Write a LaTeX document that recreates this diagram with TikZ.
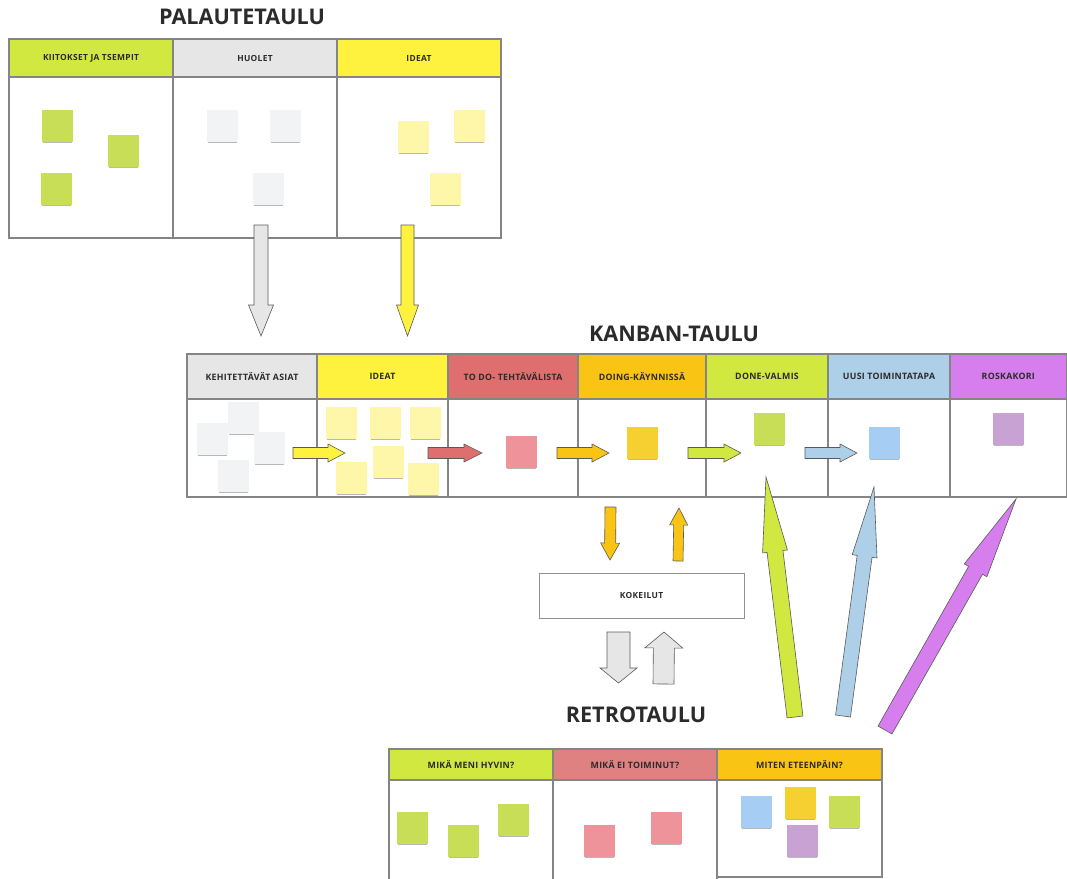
\documentclass[tikz,border=0pt]{standalone}
\usepackage{fontspec}
\setmainfont{Open Sans}
\usetikzlibrary{calc,shadows}

% header colours
\definecolor{hgreen}{HTML}{D0E840}
\definecolor{hgray}{HTML}{E6E6E6}
\definecolor{hyellow}{HTML}{FFF23F}
\definecolor{hred}{HTML}{DF6F6F}
\definecolor{hredb}{HTML}{E08181}
\definecolor{horange}{HTML}{F9C413}
\definecolor{hblue}{HTML}{AECFE8}
\definecolor{hpurple}{HTML}{D77EEE}
% sticky-note colours
\definecolor{ngreen}{HTML}{C8DE57}
\definecolor{nwhite}{HTML}{F2F3F5}
\definecolor{nyellow}{HTML}{FEF6A8}
\definecolor{npink}{HTML}{EF939B}
\definecolor{norange}{HTML}{F5D030}
\definecolor{nblue}{HTML}{A6CDF3}
\definecolor{npurple}{HTML}{C8A2D3}
% lines and text
\definecolor{ink}{HTML}{2B2B2B}
\definecolor{rule}{HTML}{858585}
\definecolor{edge}{HTML}{5A5A5A}

% block arrow: style, tail, tip, half shaft width, half head width, head length (px)
\newcommand\blockarrow[6]{%
  \path ($(#3)!#6*0.75pt!(#2)$) coordinate (ahb);
  \draw[#1]
    ($(#2)!#4*0.75pt!90:(#3)$) --
    ($(ahb)!#4*0.75pt!90:(#3)$) --
    ($(ahb)!#5*0.75pt!90:(#3)$) --
    (#3) --
    ($(ahb)!#5*0.75pt!-90:(#3)$) --
    ($(ahb)!#4*0.75pt!-90:(#3)$) --
    ($(#2)!#4*0.75pt!-90:(#3)$) -- cycle;
}

\begin{document}
\begin{tikzpicture}[x=0.75pt,y=-0.75pt,
  boardcell/.style 2 args={anchor=north west, inner sep=0pt, outer sep=0pt,
    minimum width=#1*0.75pt, minimum height=#2*0.75pt,
    draw=rule, line width=0.8pt},
  hdr/.style={font=\bfseries\fontsize{6.3}{7}\selectfont\addfontfeature{LetterSpace=4}, text=ink},
  hdrb/.style={font=\bfseries\fontsize{6.6}{7}\selectfont\addfontfeature{LetterSpace=3}, text=ink},
  boardtitle/.style={font=\bfseries\fontsize{16.2}{19}\selectfont, text=ink},
  note/.style={anchor=north west, inner sep=0pt, outer sep=0pt,
    minimum width=23.25pt, minimum height=24pt, fill=#1,
    drop shadow={shadow xshift=0pt, shadow yshift=-1.8pt,
      shadow scale=0.94, opacity=0.28, fill=black}},
  arr/.style={fill=#1, draw=edge, line width=0.45pt, line join=miter}
]
\useasboundingbox (0,0) rectangle (1067,878);
\clip (0,0) rectangle (1067,878);

% ---------------- PALAUTETAULU ----------------
\node[boardtitle] (t1) at (242,17) {PALAUTETAULU};
\node[boardcell={164}{161}] (p1b) at (9,77) {};
\node[boardcell={164}{161}] (p2b) at (173,77) {};
\node[boardcell={164}{161}] (p3b) at (337,77) {};
\node[boardcell={164}{38}, fill=hgreen, hdr] (p1h) at (9,39) {KIITOKSET JA TSEMPIT};
\node[boardcell={164}{38}, fill=hgray, hdr] (p2h) at (173,39) {HUOLET};
\node[boardcell={164}{38}, fill=hyellow, hdr] (p3h) at (337,39) {IDEAT};

\node[note=ngreen] (pa1) at (42,110) {};
\node[note=ngreen] (pa2) at (108,135) {};
\node[note=ngreen] (pa3) at (41,173) {};
\node[note=nwhite] (pb1) at (207,110) {};
\node[note=nwhite] (pb2) at (270,110) {};
\node[note=nwhite] (pb3) at (253,173) {};
\node[note=nyellow] (pc1) at (398,121) {};
\node[note=nyellow] (pc2) at (454,110) {};
\node[note=nyellow] (pc3) at (430,173) {};

% ---------------- KANBAN-TAULU ----------------
\node[boardtitle] (t2) at (674,334) {KANBAN-TAULU};
\node[boardcell={130}{98}] (k1b) at (187,399) {};
\node[boardcell={131}{98}] (k2b) at (317,399) {};
\node[boardcell={130}{98}] (k3b) at (448,399) {};
\node[boardcell={128}{98}] (k4b) at (578,399) {};
\node[boardcell={122}{98}] (k5b) at (706,399) {};
\node[boardcell={122}{98}] (k6b) at (828,399) {};
\node[boardcell={116.5}{98}] (k7b) at (950,399) {};
\node[boardcell={130}{45}, fill=hgray, hdrb] (k1h) at (187,354) {KEHITETTÄVÄT ASIAT};
\node[boardcell={131}{45}, fill=hyellow, hdrb] (k2h) at (317,354) {IDEAT};
\node[boardcell={130}{45}, fill=hred, hdrb] (k3h) at (448,354) {TO DO- TEHTÄVÄLISTA};
\node[boardcell={128}{45}, fill=horange, hdrb] (k4h) at (578,354) {DOING-KÄYNNISSÄ};
\node[boardcell={122}{45}, fill=hgreen, hdrb] (k5h) at (706,354) {DONE-VALMIS};
\node[boardcell={122}{45}, fill=hblue, hdrb] (k6h) at (828,354) {UUSI TOIMINTATAPA};
\node[boardcell={116.5}{45}, fill=hpurple, hdrb] (k7h) at (950,354) {ROSKAKORI};

\node[note=nwhite] (ka1) at (228,402) {};
\node[note=nwhite] (ka2) at (197,423) {};
\node[note=nwhite] (ka3) at (254,432) {};
\node[note=nwhite] (ka4) at (218,460) {};
\node[note=nyellow] (kb1) at (326,407) {};
\node[note=nyellow] (kb2) at (370,407) {};
\node[note=nyellow] (kb3) at (410,407) {};
\node[note=nyellow] (kb4) at (373,446) {};
\node[note=nyellow] (kb5) at (336,462) {};
\node[note=nyellow] (kb6) at (408,463) {};
\node[note=npink] (kc1) at (506,436) {};
\node[note=norange] (kd1) at (627,427) {};
\node[note=ngreen] (ke1) at (754,413) {};
\node[note=nblue] (kf1) at (869,427) {};
\node[note=npurple] (kg1) at (993,413) {};

% flow between the kanban columns
\coordinate (f1a) at (293,453); \coordinate (f1b) at (345,453);
\coordinate (f2a) at (428,453); \coordinate (f2b) at (482,453);
\coordinate (f3a) at (557,453); \coordinate (f3b) at (609,453);
\coordinate (f4a) at (688,453); \coordinate (f4b) at (741,453);
\coordinate (f5a) at (805,453); \coordinate (f5b) at (857,453);
\blockarrow{arr=hyellow}{f1a}{f1b}{5.5}{9}{17}
\blockarrow{arr=hred}{f2a}{f2b}{5.5}{9}{18}
\blockarrow{arr=horange}{f3a}{f3b}{5.5}{9}{17}
\blockarrow{arr=hgreen}{f4a}{f4b}{5.5}{9}{17}
\blockarrow{arr=hblue}{f5a}{f5b}{5.5}{9}{17}

% ---------------- KOKEILUT ----------------
\node[boardcell={205}{45}, draw=rule!90, line width=0.6pt, hdr] (kok) at (539,573) {KOKEILUT};

% ---------------- RETROTAULU ----------------
\node[boardtitle] (t3) at (636,715) {RETROTAULU};
\node[boardcell={164}{100}] (r1b) at (389,780) {};
\node[boardcell={164}{100}] (r2b) at (553,780) {};
\node[boardcell={165}{97}] (r3b) at (717,780) {};
\node[boardcell={164}{31}, fill=hgreen, hdrb] (r1h) at (389,749) {MIKÄ MENI HYVIN?};
\node[boardcell={164}{31}, fill=hredb, hdrb] (r2h) at (553,749) {MIKÄ EI TOIMINUT?};
\node[boardcell={165}{31}, fill=horange, hdrb] (r3h) at (717,749) {MITEN ETEENPÄIN?};

\node[note=ngreen] (ra1) at (397,812) {};
\node[note=ngreen] (ra2) at (448,825) {};
\node[note=ngreen] (ra3) at (498,804) {};
\node[note=npink] (rb1) at (584,825) {};
\node[note=npink] (rb2) at (651,812) {};
\node[note=nblue] (rc1) at (741,796) {};
\node[note=norange] (rc2) at (785,787) {};
\node[note=ngreen] (rc3) at (829,796) {};
\node[note=npurple] (rc4) at (787,825) {};

% ---------------- arrows between the boards ----------------
\coordinate (g1a) at (261,225); \coordinate (g1b) at (261,336);
\coordinate (y1a) at (407.5,225); \coordinate (y1b) at (407.5,336);
\blockarrow{arr=hgray}{g1a}{g1b}{7}{12.5}{31}
\blockarrow{arr=hyellow}{y1a}{y1b}{6.5}{11}{31}

\coordinate (o1a) at (610.5,507); \coordinate (o1b) at (610,560);
\coordinate (o2a) at (678,561); \coordinate (o2b) at (679,508);
\blockarrow{arr=horange}{o1a}{o1b}{5.5}{9.5}{17}
\blockarrow{arr=horange}{o2a}{o2b}{5}{9}{17}

\coordinate (g2a) at (618.5,632); \coordinate (g2b) at (618.5,683);
\coordinate (g3a) at (663.5,684); \coordinate (g3b) at (664,632);
\blockarrow{arr=hgray}{g2a}{g2b}{11.5}{18.5}{15}
\blockarrow{arr=hgray}{g3a}{g3b}{10.5}{19}{16}

\coordinate (d1a) at (795,717); \coordinate (d1b) at (766,477);
\coordinate (d2a) at (843,716); \coordinate (d2b) at (874,487);
\coordinate (d3a) at (885,730); \coordinate (d3b) at (1016,499);
\blockarrow{arr=hgreen}{d1a}{d1b}{8}{12.5}{75}
\blockarrow{arr=hblue}{d2a}{d2b}{7.5}{12.5}{70}
\blockarrow{arr=hpurple}{d3a}{d3b}{8}{13}{82}
\end{tikzpicture}
\end{document}
